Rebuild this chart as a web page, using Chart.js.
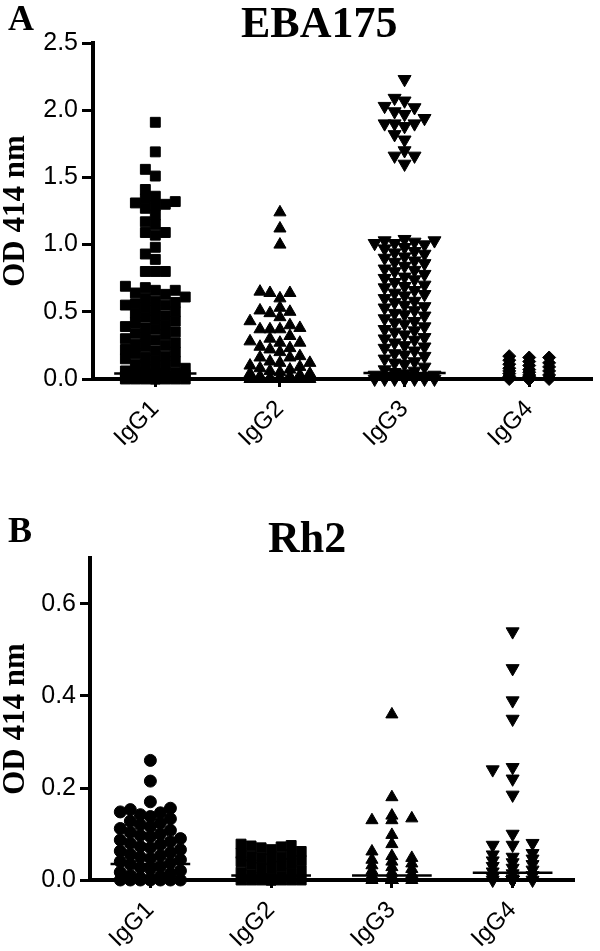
<!DOCTYPE html>
<html>
<head>
<meta charset="utf-8">
<script src="https://cdn.jsdelivr.net/npm/chart.js@4.4.0/dist/chart.umd.min.js"></script>
<style>
  body { margin:0; background:#fff; width:600px; height:951px; position:relative; overflow:hidden; }
  .panel { position:absolute; left:0; width:600px; }
  .lbl { position:absolute; font-family:'Liberation Serif', serif; font-weight:bold; line-height:1; color:#000; white-space:nowrap; }
</style>
</head>
<body>
<div class="panel" style="top:0;height:470px"><canvas id="chartA"></canvas></div>
<div class="panel" style="top:470px;height:481px"><canvas id="chartB"></canvas></div>
<div class="lbl" style="left:8px;top:0px;font-size:36px">A</div>
<div class="lbl" style="left:241px;top:1px;font-size:44px">EBA175</div>
<div class="lbl" style="left:8px;top:512px;font-size:36px">B</div>
<div class="lbl" style="left:268px;top:516px;font-size:44px">Rh2</div>
<script>
/* ===== DATA ===== */
const groups = ['IgG1', 'IgG2', 'IgG3', 'IgG4'];

// Panel A : EBA175 (OD 414 nm)
const ebaIgG1 = [1.91,1.69,1.56,1.51,1.41,1.36,1.34,1.32,1.31,1.30,1.29,1.27,1.22,1.17,1.15,1.09,1.09,1.07,0.98,0.93,0.89,0.80,0.80,0.80,
  0.69,0.68,0.66,0.66,0.64,0.63,0.61,0.60,0.58,0.57,0.56,0.55,0.55,0.53,0.51,0.50,0.49,0.47,0.46,0.44,0.43,0.42,0.40,0.39,0.38,0.37,
  0.35,0.34,0.33,0.31,0.30,0.29,0.27,0.26,0.25,0.24,0.22,0.21,0.20,0.19,0.17,0.16,0.15,0.14,0.13,0.11,0.10,0.09,0.08,0.07,0.06,0.05,
  0.05,0.04,0.04,0.03,0.03,0.02,0.02,0.02,0.01,0.01,0.01,0,0,0,0,0,0,0,0];
const ebaIgG2 = [1.24,1.12,1.00,0.65,0.64,0.64,0.60,0.53,0.51,0.50,0.49,0.46,0.43,0.40,0.38,0.37,0.37,0.37,0.32,0.30,0.28,0.27,0.27,
  0.24,0.23,0.22,0.20,0.17,0.16,0.16,0.13,0.12,0.12,0.10,0.09,0.08,0.07,0.06,0.05,0.04,0.04,0.03,0.02,0.02,0.01,0.01,0,0,0,0,0,0,0,0,0,0];
const ebaIgG3 = [2.23,2.09,2.07,2.03,2.02,1.99,1.97,1.94,1.90,1.90,1.90,1.88,1.82,1.78,1.70,1.66,1.66,1.60,
  1.04,1.03,1.03,1.02,1.01,1.01,1.00,0.98,0.97,0.95,0.94,0.93,0.91,0.90,0.88,0.87,0.86,0.84,0.82,0.81,0.80,0.78,0.76,0.75,0.74,0.72,
  0.70,0.69,0.68,0.66,0.64,0.63,0.62,0.60,0.58,0.57,0.55,0.54,0.53,0.51,0.49,0.48,0.47,0.45,0.43,0.42,0.41,0.39,0.37,0.36,0.35,0.33,
  0.31,0.30,0.29,0.27,0.25,0.24,0.23,0.21,0.19,0.18,0.17,0.15,0.13,0.12,0.11,0.09,0.07,0.06,0.05,0.04,0.03,0.03,0.02,0.02,0.01,0.01,
  0.01,0,0,0,0,0,0,0,0];
const ebaIgG4 = [0.17,0.16,0.16,0.14,0.13,0.12,0.11,0.10,0.09,0.08,0.07,0.06,0.06,0.05,0.04,0.03,0.03,0.02,0.02,0.01,0.01,0.01,0,0,0,0,0,0,0,0];
const ebaMedians = [0.04, 0, 0.045, 0];
const ebaTicks = [0, 0.5, 1.0, 1.5, 2.0, 2.5];

// Panel B : Rh2 (OD 414 nm)
const rh2IgG1 = [0.26,0.215,0.17,0.156,0.153,0.148,0.146,0.142,0.138,0.133,0.128,0.124,0.12,0.116,0.112,0.108,0.104,0.10,0.097,0.094,
  0.09,0.087,0.083,0.08,0.077,0.073,0.07,0.066,0.063,0.06,0.056,0.053,0.05,0.047,0.044,0.04,0.037,0.034,0.03,0.027,0.024,0.02,0.017,
  0.014,0.01,0.008,0.005,0.003,0,0,0,0,0,0,0];
const rh2IgG2 = [0.078,0.075,0.074,0.072,0.07,0.066,0.062,0.058,0.055,0.052,0.05,0.048,0.045,0.042,0.04,0.036,0.033,0.03,0.027,0.024,
  0.02,0.017,0.014,0.011,0.008,0.005,0.003,0,0,0,0,0,0,0,0,0];
const rh2IgG3 = [0.36,0.18,0.14,0.134,0.13,0.13,0.098,0.078,0.062,0.052,0.048,0.044,0.04,0.036,0.032,0.028,0.024,0.02,0.016,0.013,
  0.01,0.008,0.006,0.004,0.002,0,0,0,0,0,0,0,0,0,0,0,0];
const rh2IgG4 = [0.54,0.46,0.39,0.35,0.245,0.24,0.22,0.185,0.10,0.08,0.076,0.076,0.058,0.055,0.05,0.046,0.042,0.038,0.034,0.03,0.026,
  0.022,0.018,0.014,0.01,0.006,0.003,0,0,0,0,0,0,0,0,0];
const rh2Medians = [0.035, 0.01, 0.01, 0.016];
const rh2Ticks = [0, 0.2, 0.4, 0.6];

/* ===== LAYOUT (dot-plot spreading) ===== */
// points with close values are pushed sideways into columns, like a Prism dot plot
function swarm(values, center, step, cols, gap){
  const order = [0];
  for(let k = 1; k <= cols; k++) order.push(-k, k);
  const last = {};
  return values.slice().sort((a, b) => a - b).map(v => {
    let pick = 0, bestD = -Infinity;
    for(const c of order){
      const d = last[c] === undefined ? Infinity : v - last[c];
      if(d >= gap){ pick = c; break; }
      if(d > bestD){ bestD = d; pick = c; }
    }
    last[pick] = v;
    return { x: center + pick * step, y: v };
  });
}

function dots(values, i, mk, lay){
  return {
    data: swarm(values, i + 1, lay.step, lay.cols, lay.gap),
    pointStyle: mk.shape, rotation: mk.rot || 0, pointRadius: mk.r,
    backgroundColor: '#000', borderColor: '#000', borderWidth: 1, clip: false
  };
}

function medianLine(m, i){
  return {
    data: [{ x: i + 1 - 0.33, y: m }, { x: i + 1 + 0.33, y: m }],
    showLine: true, borderColor: '#000', borderWidth: 2.5, pointRadius: 0, clip: false
  };
}

function makeOptions(cfg){
  const sans = { family: "'Liberation Sans', Arial, sans-serif", size: 24 };
  return {
    responsive: true, maintainAspectRatio: false, animation: false,
    layout: { padding: cfg.pad },
    plugins: { legend: { display: false }, tooltip: { enabled: false } },
    scales: {
      x: {
        type: 'linear', min: 0.5, max: 4.5,
        afterBuildTicks: s => { s.ticks = groups.map((g, i) => ({ value: i + 1 })); },
        afterFit: s => { s.height = cfg.xH; },
        ticks: { callback: v => groups[v - 1], minRotation: 45, maxRotation: 45, color: '#000', font: sans, padding: 8 },
        grid: { drawOnChartArea: false, color: '#000', lineWidth: 3, tickLength: 8 },
        border: { color: '#000', width: 4 }
      },
      y: {
        min: 0, max: cfg.yMax,
        afterBuildTicks: s => { s.ticks = cfg.ticks.map(v => ({ value: v })); },
        afterFit: s => { s.width = cfg.yW; },
        ticks: { callback: v => v.toFixed(1), color: '#000', font: { family: sans.family, size: 25 }, padding: 4 },
        grid: { drawOnChartArea: false, color: '#000', lineWidth: 3, tickLength: cfg.tickLen },
        border: { color: '#000', width: 4 },
        title: { display: true, text: 'OD 414 nm', color: '#000',
          font: { family: "'Liberation Serif', serif", weight: 'bold', size: 31, lineHeight: 1 },
          padding: { top: 0, bottom: 0 } }
      }
    }
  };
}

/* ===== CHART A : EBA175 ===== */
(function(){
  const mk = [
    { shape: 'rect', r: 7 },
    { shape: 'triangle', r: 7 },
    { shape: 'triangle', r: 7.5, rot: 180 },
    { shape: 'rectRot', r: 6.5 }
  ];
  const lay = [
    { step: 0.08, cols: 3, gap: 0.065 },
    { step: 0.08, cols: 3, gap: 0.065 },
    { step: 0.08, cols: 3, gap: 0.065 },
    { step: 0.16, cols: 1, gap: 0.065 }
  ];
  const series = [ebaIgG1, ebaIgG2, ebaIgG3, ebaIgG4];
  const ds = series.map((s, i) => dots(s, i, mk[i], lay[i]))
    .concat(ebaMedians.map(medianLine));
  new Chart(document.getElementById('chartA'), {
    type: 'scatter',
    data: { datasets: ds },
    options: makeOptions({ pad: { top: 43, right: 5, left: 0, bottom: 0 }, xH: 91, yW: 93, yMax: 2.5, ticks: ebaTicks, tickLen: 11 })
  });
})();

/* ===== CHART B : Rh2 ===== */
(function(){
  const mk = [
    { shape: 'circle', r: 6 },
    { shape: 'rect', r: 7 },
    { shape: 'triangle', r: 7 },
    { shape: 'triangle', r: 7.5, rot: 180 }
  ];
  const lay = [
    { step: 0.083, cols: 3, gap: 0.02 },
    { step: 0.083, cols: 3, gap: 0.02 },
    { step: 0.165, cols: 1, gap: 0.02 },
    { step: 0.165, cols: 1, gap: 0.02 }
  ];
  const series = [rh2IgG1, rh2IgG2, rh2IgG3, rh2IgG4];
  const ds = series.map((s, i) => dots(s, i, mk[i], lay[i]))
    .concat(rh2Medians.map(medianLine));
  new Chart(document.getElementById('chartB'), {
    type: 'scatter',
    data: { datasets: ds },
    options: makeOptions({ pad: { top: 88, right: 27, left: 0, bottom: 0 }, xH: 71, yW: 90, yMax: 0.7, ticks: rh2Ticks, tickLen: 10 })
  });
})();
</script>
</body>
</html>
